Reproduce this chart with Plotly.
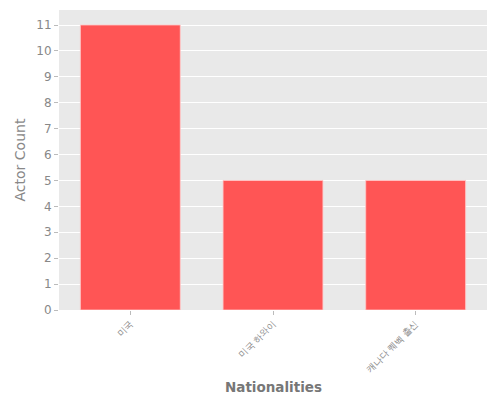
import plotly.graph_objects as go

nationalities = ["미국", "미국 하와이", "캐나다 퀘벡 출신"]
actor_counts = [11, 5, 5]
x_title = "Nationalities"
y_title = "Actor Count"

fig = go.Figure(
    go.Bar(
        x=nationalities,
        y=actor_counts,
        marker=dict(color="#ff5555", line=dict(color="rgba(255,200,200,0.8)", width=1)),
    )
)

fig.update_layout(
    width=500,
    height=400,
    margin=dict(l=51, r=21, t=2, b=98, autoexpand=False),
    paper_bgcolor="white",
    plot_bgcolor="#e9e9e9",
    bargap=0.3,
    font=dict(family="DejaVu Sans", color="#888888", size=12),
    showlegend=False,
    annotations=[
        dict(text=x_title, xref="paper", yref="paper", x=0.5, y=-0.257,
             xanchor="center", yanchor="middle", showarrow=False,
             font=dict(size=13.5, color="#777777", weight="bold")),
        dict(text=y_title, xref="paper", yref="paper", x=-0.09, y=0.5,
             xanchor="center", yanchor="middle", showarrow=False, textangle=-90,
             font=dict(size=14, color="#888888")),
    ],
)
fig.update_xaxes(
    tickangle=-45,
    ticks="outside",
    ticklen=4,
    tickcolor="#bbbbbb",
    showgrid=False,
    automargin=False,
    tickfont=dict(size=9, color="#888888"),
)
fig.update_yaxes(
    dtick=1,
    ticks="outside",
    ticklen=4,
    tickcolor="#bbbbbb",
    gridcolor="white",
    zeroline=False,
    automargin=False,
    tickfont=dict(size=12, color="#888888"),
)

fig.write_html("out.html")
